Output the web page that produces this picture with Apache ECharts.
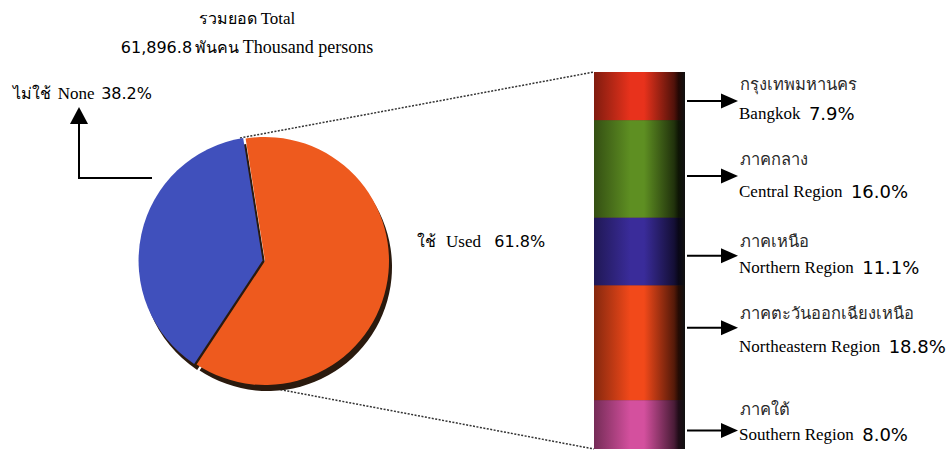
<!DOCTYPE html>
<html><head><meta charset="utf-8">
<script src="https://cdn.jsdelivr.net/npm/echarts@6/dist/echarts.min.js"></script>
<style>html,body{margin:0;padding:0;background:#fff}#c{width:951px;height:451px}</style>
</head><body><div id="c"></div>
<script>
// ---- data ----
const titleTh = 'รวมยอด';
const titleEn = 'Total';
const totalValue = '61,896.8';
const totalUnitTh = 'พันคน';
const totalUnitEn = 'Thousand persons';
const pieNamesTh = ['ใช้', 'ไม่ใช้'];
const pieNamesEn = ['Used', 'None'];
const pieValues = [61.8, 38.2];
const regionNamesTh = ['กรุงเทพมหานคร', 'ภาคกลาง', 'ภาคเหนือ', 'ภาคตะวันออกเฉียงเหนือ', 'ภาคใต้'];
const regionNamesEn = ['Bangkok', 'Central Region', 'Northern Region', 'Northeastern Region', 'Southern Region'];
const regionValues = [7.9, 16.0, 11.1, 18.8, 8.0];

// ---- styles ----
const pieColors = ['#EE5A1E', '#4050BC'];
const regionColors = ['#E8321C', '#5E8F22', '#3A2C9A', '#F2491A', '#D4509E'];
const arrowDy = [5, 7, 4, -15, 6];      // annotation arrow offset from segment centre
const thDy = [-17, -16, -14, -14, -21]; // Thai line offset from arrow
const enDy = [12, 16, 12, 19, 4];       // English line offset from arrow
const SERIF = '"Liberation Serif", serif';
const SANS = '"DejaVu Sans", sans-serif';
const TXT = '#2a2a2a';

function shade(hex, f) {
  const n = parseInt(hex.slice(1), 16);
  const r = Math.round(((n >> 16) & 255) * f), g = Math.round(((n >> 8) & 255) * f), b = Math.round((n & 255) * f);
  return 'rgb(' + r + ',' + g + ',' + b + ')';
}
function grad(c) {
  return { type: 'linear', x: 0, y: 0, x2: 1, y2: 0, colorStops: [
    { offset: 0, color: shade(c, 0.55) },
    { offset: 0.4, color: c },
    { offset: 0.55, color: c },
    { offset: 0.88, color: shade(c, 0.35) },
    { offset: 0.93, color: shade(c, 0.15) },
    { offset: 1, color: '#111' } ] };
}
const rich = (ws, ns) => ({
  w: { fontFamily: SERIF, fontSize: ws, color: TXT },
  n: { fontFamily: SANS, fontSize: ns, color: TXT },
  t: { fontFamily: SERIF, fontSize: 16, color: TXT }
});

const sum = regionValues.reduce((a, b) => a + b, 0);
const chart = echarts.init(document.getElementById('c'), null, { renderer: 'svg' });

const pieData = pieValues.map((v, i) => ({ value: v, name: pieNamesEn[i], selected: i === 1 }));

chart.setOption({
  animation: false,
  grid: { left: 594, top: 72, width: 91, height: 377 },
  xAxis: { type: 'category', data: ['used'], show: false },
  yAxis: { type: 'value', min: 0, max: sum, inverse: true, show: false },
  series: [
    { type: 'pie', silent: true, center: [268, 267], radius: 124, startAngle: 99, selectedOffset: 2.5,
      selectedMode: 'multiple', label: { show: false }, labelLine: { show: false },
      itemStyle: { color: '#2a1a0e' }, data: pieData.map(d => Object.assign({}, d)), z: 1 },
    { type: 'pie', silent: true, center: [265, 261], radius: 124, startAngle: 99, selectedOffset: 2.5,
      selectedMode: 'multiple', label: { show: false }, labelLine: { show: false },
      data: pieData.map((d, i) => Object.assign({}, d, { itemStyle: { color: pieColors[i] } })), z: 2 }
  ].concat(regionValues.map((v, i) => ({
    type: 'bar', stack: 'r', barWidth: '100%', name: regionNamesEn[i],
    itemStyle: { color: grad(regionColors[i]) },
    data: [v], silent: true, z: 3
  })))
});

// annotations
const g = [];
let cum = 0;
const barTop = chart.convertToPixel({ gridIndex: 0 }, [0, 0])[1];
const barBot = chart.convertToPixel({ gridIndex: 0 }, [0, sum])[1];
// dark backing behind the stacked bar (hides anti-alias seams between segments)
g.push({ type: 'rect', z: 1, shape: { x: 594, y: barTop, width: 91, height: barBot - barTop },
  style: { fill: { type: 'linear', x: 0, y: 0, x2: 1, y2: 0, colorStops: [
    { offset: 0, color: '#5a2a20' }, { offset: 0.45, color: '#8a3a28' }, { offset: 1, color: '#111' } ] } } });
regionValues.forEach((v, i) => {
  const yTop = chart.convertToPixel({ gridIndex: 0 }, [0, cum])[1];
  const yBot = chart.convertToPixel({ gridIndex: 0 }, [0, cum + v])[1];
  cum += v;
  const ya = (yTop + yBot) / 2 + arrowDy[i];
  g.push({ type: 'line', shape: { x1: 687, y1: ya, x2: 724, y2: ya }, style: { stroke: '#000', lineWidth: 2 } });
  g.push({ type: 'polygon', shape: { points: [[721, ya - 7.5], [721, ya + 7.5], [738, ya]] }, style: { fill: '#000' } });
  g.push({ type: 'text', x: 740, y: ya + thDy[i], style: { text: regionNamesTh[i], font: '16.5px ' + SERIF, fill: TXT, verticalAlign: 'middle' } });
  g.push({ type: 'text', x: 739, y: ya + enDy[i], style: { text: '{w|' + regionNamesEn[i] + '  }{n|' + v.toFixed(1) + '%}', rich: rich(17, 18), verticalAlign: 'middle' } });
});
// dotted connectors
g.push({ type: 'line', shape: { x1: 240, y1: 138, x2: 594, y2: barTop }, style: { stroke: '#333', lineWidth: 1.5, lineDash: [2, 1.5] }, z: 0 });
g.push({ type: 'line', shape: { x1: 277, y1: 389, x2: 594, y2: barBot }, style: { stroke: '#333', lineWidth: 1.5, lineDash: [2, 1.5] }, z: 0 });
// left arrow for "None"
g.push({ type: 'polyline', shape: { points: [[152, 178], [79, 178], [79, 122]] }, style: { stroke: '#000', lineWidth: 2, fill: null } });
g.push({ type: 'polygon', shape: { points: [[70, 124], [88, 124], [79, 107]] }, style: { fill: '#000' } });
// texts
g.push({ type: 'text', x: 247, y: 18, style: { text: '{t|' + titleTh + ' }{w|' + titleEn + '}', rich: rich(17, 16), align: 'center', verticalAlign: 'middle' } });
g.push({ type: 'text', x: 247, y: 47, style: { text: '{n|' + totalValue + '} {t|' + totalUnitTh + '} {w|' + totalUnitEn + '}', rich: rich(18, 16), align: 'center', verticalAlign: 'middle' } });
g.push({ type: 'text', x: 13, y: 93, style: { text: '{t|' + pieNamesTh[1] + '}  {w|' + pieNamesEn[1] + '}  {n|' + pieValues[1].toFixed(1) + '%}', rich: rich(17, 16), verticalAlign: 'middle' } });
g.push({ type: 'text', x: 417, y: 241, style: { text: '{t|' + pieNamesTh[0] + '}   {w|' + pieNamesEn[0] + '}    {n|' + pieValues[0].toFixed(1) + '%}', rich: rich(17, 16), verticalAlign: 'middle' } });
chart.setOption({ graphic: g });
</script></body></html>
